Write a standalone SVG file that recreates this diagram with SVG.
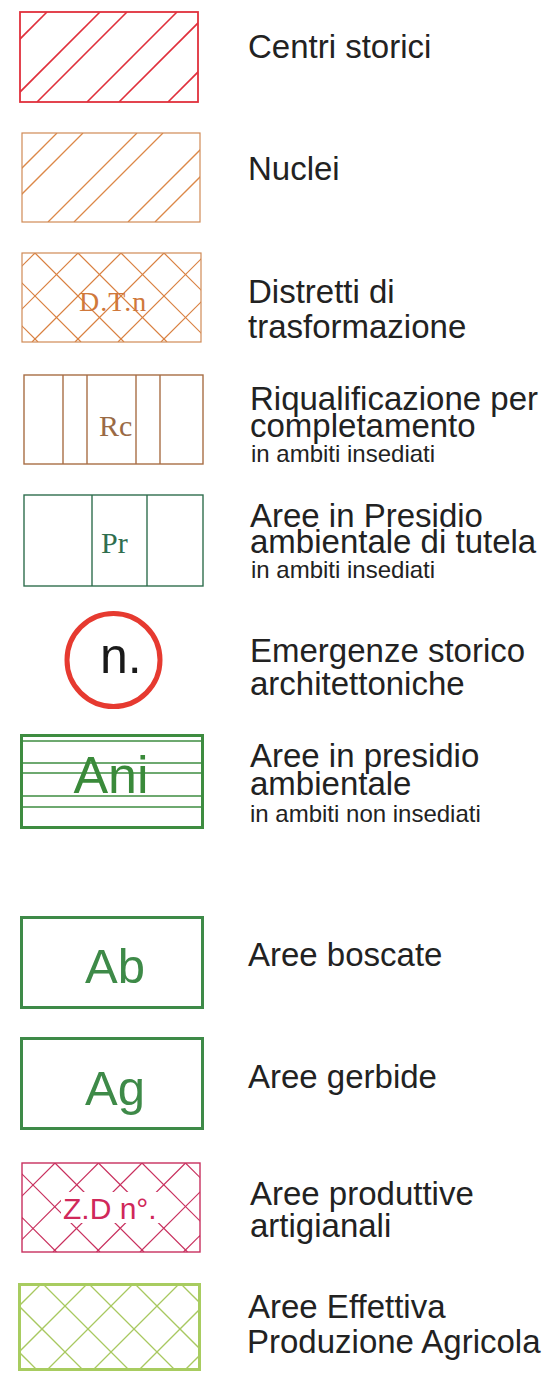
<svg xmlns="http://www.w3.org/2000/svg" width="558" height="1374" viewBox="0 0 558 1374">
<style>
.lbl{font-family:"Liberation Sans",Arial,sans-serif;font-size:33px;fill:#222}
.sm{font-family:"Liberation Sans",Arial,sans-serif;font-size:24px;fill:#222}
.serif{font-family:"Liberation Serif","Times New Roman",serif}
.sans{font-family:"Liberation Sans",Arial,sans-serif}
</style>
<defs>
<clipPath id="c1"><rect x="20" y="12" width="178" height="90"/></clipPath>
<clipPath id="c2"><rect x="22" y="133" width="178" height="89"/></clipPath>
<clipPath id="c3"><rect x="22" y="253" width="179" height="89"/></clipPath>
<clipPath id="c4"><rect x="22" y="1163" width="178" height="89"/></clipPath>
<clipPath id="c5"><rect x="18" y="1283" width="183" height="88"/></clipPath>
</defs>
<rect width="558" height="1374" fill="#fff"/>

<g id="centri-storici">
<g clip-path="url(#c1)" stroke="#e0303c" stroke-width="1.6">
<line x1="-43" y1="102" x2="47" y2="12"/><line x1="10" y1="102" x2="100" y2="12"/>
<line x1="37" y1="102" x2="127" y2="12"/><line x1="87" y1="102" x2="177" y2="12"/>
<line x1="119" y1="102" x2="209" y2="12"/><line x1="168" y1="102" x2="258" y2="12"/>
</g>
<rect x="20" y="12" width="178" height="90" fill="none" stroke="#e0303c" stroke-width="1.8"/>
<text class="lbl" x="248" y="58">Centri storici</text>
</g>

<g id="nuclei">
<g clip-path="url(#c2)" stroke="#dc8848" stroke-width="1.3">
<line x1="-32" y1="222" x2="57" y2="133"/><line x1="-6" y1="222" x2="83" y2="133"/>
<line x1="48" y1="222" x2="137" y2="133"/><line x1="74" y1="222" x2="163" y2="133"/>
<line x1="128" y1="222" x2="217" y2="133"/><line x1="155" y1="222" x2="244" y2="133"/>
</g>
<rect x="22" y="133" width="178" height="89" fill="none" stroke="#d08a55" stroke-width="1.2"/>
<text class="lbl" x="248" y="180">Nuclei</text>
</g>

<g id="distretti">
<g clip-path="url(#c3)" stroke="#d98040" stroke-width="1.2">
<line x1="-54" y1="342" x2="35" y2="253"/><line x1="-11" y1="342" x2="78" y2="253"/>
<line x1="32" y1="342" x2="121" y2="253"/><line x1="75" y1="342" x2="164" y2="253"/>
<line x1="118" y1="342" x2="207" y2="253"/><line x1="161" y1="342" x2="250" y2="253"/>
<line x1="-51" y1="253" x2="38" y2="342"/><line x1="-8" y1="253" x2="81" y2="342"/>
<line x1="35" y1="253" x2="124" y2="342"/><line x1="78" y1="253" x2="167" y2="342"/>
<line x1="121" y1="253" x2="210" y2="342"/><line x1="164" y1="253" x2="253" y2="342"/>
</g>
<rect x="22" y="253" width="179" height="89" fill="none" stroke="#d08a55" stroke-width="1.2"/>
<text class="serif" x="79" y="311" font-size="28" letter-spacing="1" fill="#d0783a">D.T.n</text>
<text class="lbl" x="248" y="303">Distretti di</text>
<text class="lbl" x="248" y="338">trasformazione</text>
</g>

<g id="riqualificazione">
<rect x="24" y="375" width="179" height="89" fill="none" stroke="#a86e45" stroke-width="1.4"/>
<g stroke="#a86e45" stroke-width="1.4">
<line x1="63" y1="375" x2="63" y2="464"/><line x1="87" y1="375" x2="87" y2="464"/>
<line x1="136" y1="375" x2="136" y2="464"/><line x1="160" y1="375" x2="160" y2="464"/>
</g>
<text class="serif" x="99" y="436" font-size="30" fill="#9a6a45">Rc</text>
<text class="lbl" x="250" y="410">Riqualificazione per</text>
<text class="lbl" x="250" y="437">completamento</text>
<text class="sm" x="251" y="462">in ambiti insediati</text>
</g>

<g id="presidio-tutela">
<rect x="24" y="495" width="179" height="91" fill="none" stroke="#2f6e4e" stroke-width="1.4"/>
<g stroke="#2f6e4e" stroke-width="1.4">
<line x1="92" y1="495" x2="92" y2="586"/><line x1="147" y1="495" x2="147" y2="586"/>
</g>
<text class="serif" x="101" y="553" font-size="30" fill="#2f6e4e">Pr</text>
<text class="lbl" x="250" y="527">Aree in Presidio</text>
<text class="lbl" x="250" y="553">ambientale di tutela</text>
<text class="sm" x="251" y="578">in ambiti insediati</text>
</g>

<g id="emergenze">
<circle cx="113.5" cy="660" r="46.5" fill="none" stroke="#e63a30" stroke-width="5"/>
<text class="sans" x="100" y="673" font-size="50" fill="#1a1a1a">n.</text>
<text class="lbl" x="250" y="662">Emergenze storico</text>
<text class="lbl" x="250" y="695">architettoniche</text>
</g>

<g id="presidio-non-insediati">
<rect x="21.5" y="735.5" width="181" height="92" fill="none" stroke="#3e8c40" stroke-width="3"/>
<g stroke="#3e8c40" stroke-width="1.3">
<line x1="22" y1="741" x2="202" y2="741"/><line x1="22" y1="763" x2="202" y2="763"/>
<line x1="22" y1="773" x2="202" y2="773"/><line x1="22" y1="796" x2="202" y2="796"/>
<line x1="22" y1="807" x2="202" y2="807"/>
</g>
<text class="sans" x="111" y="793" font-size="52" text-anchor="middle" fill="#3a8a3a">Ani</text>
<text class="lbl" x="250" y="767">Aree in presidio</text>
<text class="lbl" x="250" y="795">ambientale</text>
<text class="sm" x="250" y="822">in ambiti non insediati</text>
</g>

<g id="boscate">
<rect x="21.5" y="917.5" width="181" height="90" fill="none" stroke="#3e8a48" stroke-width="3"/>
<text class="sans" x="115" y="983" font-size="49" text-anchor="middle" fill="#3e8a48">Ab</text>
<text class="lbl" x="248" y="966">Aree boscate</text>
</g>

<g id="gerbide">
<rect x="21.5" y="1038.5" width="181" height="90" fill="none" stroke="#3e8a48" stroke-width="3"/>
<text class="sans" x="115" y="1105" font-size="49" text-anchor="middle" fill="#3e8a48">Ag</text>
<text class="lbl" x="248" y="1088">Aree gerbide</text>
</g>

<g id="produttive">
<g clip-path="url(#c4)" stroke="#c8305e" stroke-width="1.2">
<line x1="-34" y1="1252" x2="55" y2="1163"/><line x1="9.5" y1="1252" x2="98.5" y2="1163"/>
<line x1="53" y1="1252" x2="142" y2="1163"/><line x1="96.5" y1="1252" x2="185.5" y2="1163"/>
<line x1="140" y1="1252" x2="229" y2="1163"/><line x1="183.5" y1="1252" x2="272.5" y2="1163"/>
<line x1="-32.5" y1="1163" x2="56.5" y2="1252"/><line x1="11" y1="1163" x2="100" y2="1252"/>
<line x1="55" y1="1163" x2="144" y2="1252"/><line x1="98.5" y1="1163" x2="187.5" y2="1252"/>
<line x1="142" y1="1163" x2="231" y2="1252"/><line x1="185.5" y1="1163" x2="274.5" y2="1252"/>
</g>
<rect x="22" y="1163" width="178" height="89" fill="none" stroke="#c8305e" stroke-width="1.4"/>
<rect x="61" y="1192" width="99" height="31" fill="#fff"/>
<text class="sans" x="63" y="1219" font-size="30" fill="#d0285a">Z.D n°.</text>
<text class="lbl" x="250" y="1205">Aree produttive</text>
<text class="lbl" x="250" y="1237">artigianali</text>
</g>

<g id="produzione-agricola">
<g clip-path="url(#c5)" stroke="#a8c860" stroke-width="1.3">
<line x1="-46" y1="1371" x2="42" y2="1283"/><line x1="0" y1="1371" x2="88" y2="1283"/>
<line x1="46" y1="1371" x2="134" y2="1283"/><line x1="92" y1="1371" x2="180" y2="1283"/>
<line x1="138" y1="1371" x2="226" y2="1283"/><line x1="184" y1="1371" x2="272" y2="1283"/>
<line x1="-50" y1="1283" x2="38" y2="1371"/><line x1="-4" y1="1283" x2="84" y2="1371"/>
<line x1="42" y1="1283" x2="130" y2="1371"/><line x1="88" y1="1283" x2="176" y2="1371"/>
<line x1="134" y1="1283" x2="222" y2="1371"/><line x1="180" y1="1283" x2="268" y2="1371"/>
</g>
<rect x="19.5" y="1284.5" width="180" height="85" fill="none" stroke="#a8cc60" stroke-width="3"/>
<text class="lbl" x="248" y="1318">Aree Effettiva</text>
<text class="lbl" x="247" y="1353">Produzione Agricola</text>
</g>

<g id="connectors"/>
</svg>
